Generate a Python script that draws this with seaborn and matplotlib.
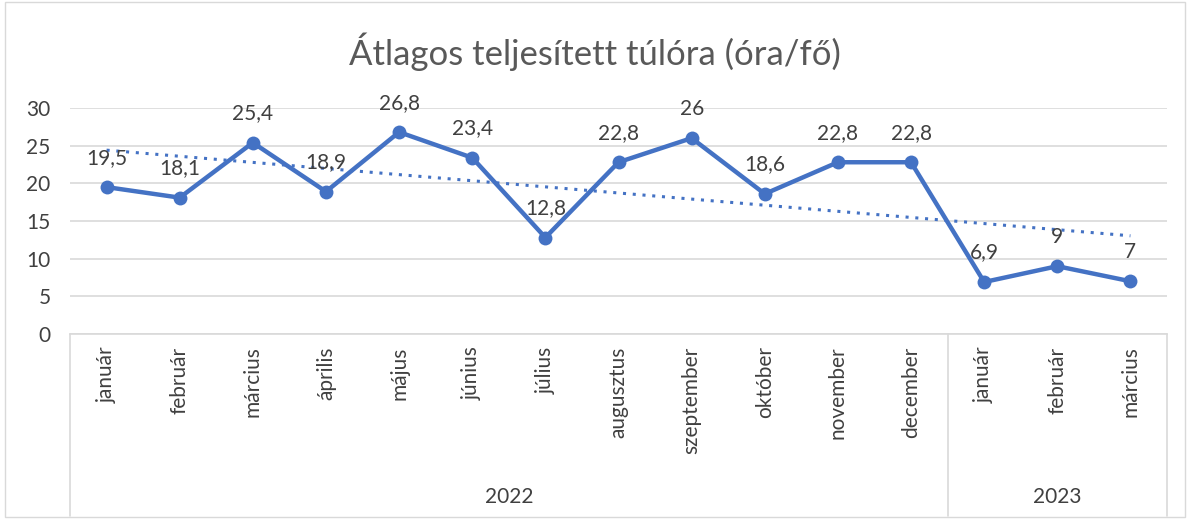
import numpy as np
import pandas as pd
import matplotlib
matplotlib.use("Agg")
import matplotlib.pyplot as plt
import seaborn as sns

# data
months = ["január", "február", "március", "április", "május", "június", "július",
          "augusztus", "szeptember", "október", "november", "december",
          "január", "február", "március"]
years = ["2022"] * 12 + ["2023"] * 3
overtime = [19.5, 18.1, 25.4, 18.9, 26.8, 23.4, 12.8, 22.8, 26, 18.6, 22.8, 22.8, 6.9, 9, 7]

df = pd.DataFrame({"honap": months, "ev": years, "ora": overtime})
df["pos"] = np.arange(len(df))

sns.set_theme(style="white")
plt.rcParams["font.family"] = ["Lato", "DejaVu Sans"]

blue = "#4472C4"
grid_c = "#D9D9D9"
text_c = "#404040"

fig = plt.figure(figsize=(11.9, 5.19), dpi=100)
ax = fig.add_axes([70 / 1190, 1 - 334 / 519, (1167 - 70) / 1190, (334 - 108) / 519])

sns.lineplot(data=df, x="pos", y="ora", ax=ax, color=blue, linewidth=3.2,
             marker="o", markersize=10, markeredgewidth=0, zorder=3)

# linear trendline (dotted)
coef = np.polyfit(df["pos"], df["ora"], 1)
trend = np.polyval(coef, df["pos"])
ax.plot(df["pos"], trend, color=blue, linestyle=(0, (1, 2.2)), linewidth=2.2, zorder=2)

# data labels
for x, y in zip(df["pos"], df["ora"]):
    lab = ("%g" % y).replace(".", ",")
    ax.annotate(lab, (x, y), xytext=(0, 14), textcoords="offset points",
                ha="center", va="bottom", fontsize=15, color=text_c, zorder=4)

ax.set_xlim(-0.5, len(df) - 0.5)
ax.set_ylim(0, 30)
ax.set_yticks(range(0, 31, 5))
ax.yaxis.grid(True, color=grid_c, linewidth=1.2)
ax.set_axisbelow(True)
ax.set_xticks(df["pos"])
ax.set_xticklabels(df["honap"], rotation=90, fontsize=15, color=text_c)
ax.tick_params(axis="x", length=0, pad=9)
ax.tick_params(axis="y", length=0, pad=14, labelsize=15, labelcolor=text_c)
ax.set_xlabel("")
ax.set_ylabel("")
for s in ["top", "right", "left"]:
    ax.spines[s].set_visible(False)
ax.spines["bottom"].set_color(grid_c)
ax.spines["bottom"].set_linewidth(1.2)

# year level of the category axis
tr = ax.get_xaxis_transform()
y_bot = (334 - 516) / 226
for xs in [-0.5, 11.5, len(df) - 0.5]:
    ax.plot([xs, xs], [0, y_bot], transform=tr, color=grid_c, linewidth=1.2, clip_on=False)
for yr, grp in df.groupby("ev"):
    xc = (grp["pos"].min() + grp["pos"].max()) / 2
    ax.text(xc, (334 - 497) / 226, yr, transform=tr, ha="center", va="center",
            fontsize=15, color=text_c)

fig.suptitle("Átlagos teljesített túlóra (óra/fő)", y=1 - 52 / 519, va="center",
             fontsize=25, color="#595959")

fig.patches.append(plt.Rectangle((0.004, 0.004), 0.992, 0.992, transform=fig.transFigure,
                                 fill=False, edgecolor=grid_c, linewidth=1))

fig.savefig("out.png", dpi=100)
